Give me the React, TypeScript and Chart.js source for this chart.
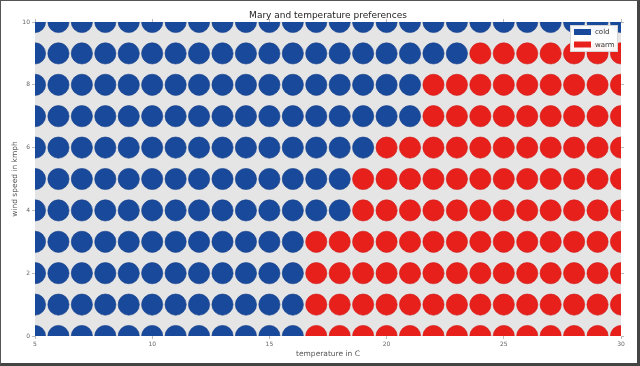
import React, { useEffect, useRef } from "react";
import { Chart, registerables } from "chart.js";

Chart.register(...registerables);

// ---- data ----
const temperatures = [5, 6, 7, 8, 9, 10, 11, 12, 13, 14, 15, 16, 17, 18, 19, 20, 21, 22, 23, 24, 25, 26, 27, 28, 29, 30];
const windSpeeds = [0, 1, 2, 3, 4, 5, 6, 7, 8, 9, 10];
// highest temperature still preferred as "cold" for each wind speed
const coldUpToTemp = [16, 16, 16, 16, 18, 18, 19, 21, 21, 23, 30];
const xTickValues = [5, 10, 15, 20, 25, 30];
const yTickValues = [0, 2, 4, 6, 8, 10];
const seriesLabels = ["cold", "warm"];
const seriesColors = ["#19499b", "#e8201c"];
const seriesEdges = ["#16408a", "#cf1d19"];
const titleText = "Mary and temperature preferences";
const xLabel = "temperature in C";
const yLabel = "wind speed in kmph";

const coldPoints: { x: number; y: number }[] = [];
const warmPoints: { x: number; y: number }[] = [];
windSpeeds.forEach((w, i) => {
  temperatures.forEach((t) => {
    if (t <= coldUpToTemp[i]) coldPoints.push({ x: t, y: w });
    else warmPoints.push({ x: t, y: w });
  });
});

const FONT = "'DejaVu Sans', sans-serif";

const bgPlugin = {
  id: "bgPlugin",
  beforeDraw(chart: any) {
    const { ctx, chartArea } = chart;
    ctx.save();
    ctx.fillStyle = "#ffffff";
    ctx.fillRect(0, 0, chart.width, chart.height);
    ctx.fillStyle = "#e5e5e5";
    ctx.fillRect(chartArea.left, chartArea.top, chartArea.right - chartArea.left, chartArea.bottom - chartArea.top);
    ctx.restore();
  },
};

const legendPlugin = {
  id: "boxLegend",
  afterDraw(chart: any) {
    const { ctx, chartArea } = chart;
    const w = 48;
    const h = 27;
    const left = chartArea.right - 3 - w;
    const top = chartArea.top + 3;
    ctx.save();
    ctx.fillStyle = "rgba(255,255,255,0.95)";
    ctx.strokeStyle = "#cccccc";
    ctx.lineWidth = 0.8;
    ctx.fillRect(left, top, w, h);
    ctx.strokeRect(left + 0.5, top + 0.5, w - 1, h - 1);
    ctx.font = `7px ${FONT}`;
    ctx.textBaseline = "middle";
    ctx.textAlign = "left";
    chart.data.datasets.forEach((ds: any, i: number) => {
      const cy = top + 7 + i * 12.5;
      ctx.fillStyle = ds.backgroundColor;
      ctx.fillRect(left + 4, cy - 3, 17, 6);
      ctx.fillStyle = "#333333";
      ctx.fillText(ds.label, left + 25, cy + 0.5);
    });
    ctx.restore();
  },
};

export default function App() {
  const ref = useRef<HTMLCanvasElement | null>(null);
  useEffect(() => {
    document.body.style.margin = "0";
    if (!ref.current) return;
    const tickFont = { family: FONT, size: 6 };
    const chart = new Chart(ref.current, {
      type: "scatter",
      data: {
        datasets: [
          {
            label: seriesLabels[0],
            data: coldPoints,
            backgroundColor: seriesColors[0],
            borderColor: seriesEdges[0],
            borderWidth: 0.6,
            pointRadius: 10.6,
            pointHoverRadius: 10.6,
            clip: 0,
          },
          {
            label: seriesLabels[1],
            data: warmPoints,
            backgroundColor: seriesColors[1],
            borderColor: seriesEdges[1],
            borderWidth: 0.6,
            pointRadius: 10.6,
            pointHoverRadius: 10.6,
            clip: 0,
          },
        ],
      },
      options: {
        responsive: false,
        animation: false,
        devicePixelRatio: 1,
        layout: { padding: { left: 0, right: 19, top: 0, bottom: 0 } },
        plugins: {
          legend: { display: false },
          tooltip: { enabled: false },
          title: {
            display: true,
            fullSize: false,
            text: titleText,
            color: "#222222",
            font: { family: FONT, size: 9, weight: "normal" },
            padding: { top: 10.6, bottom: 0.6 },
          },
        },
        scales: {
          x: {
            type: "linear",
            position: "bottom",
            min: 5,
            max: 30,
            afterBuildTicks: (s: any) => {
              s.ticks = xTickValues.map((v) => ({ value: v }));
            },
            ticks: { font: tickFont, color: "#666666", padding: 2, maxRotation: 0 },
            grid: { drawOnChartArea: false, tickLength: 3, color: "#bbbbbb" },
            border: { display: false },
            title: {
              display: true,
              text: xLabel,
              color: "#555555",
              font: { family: FONT, size: 7.5 },
              padding: { top: 0, bottom: 7.5 },
            },
            afterFit: (s: any) => {
              s.height = 30;
            },
          },
          x2: {
            type: "linear",
            position: "top",
            min: 5,
            max: 30,
            afterBuildTicks: (s: any) => {
              s.ticks = xTickValues.map((v) => ({ value: v }));
            },
            ticks: { display: false },
            grid: { drawOnChartArea: false, tickLength: 3, color: "#bbbbbb" },
            border: { display: false },
            afterFit: (s: any) => {
              s.height = 0;
            },
          },
          y: {
            type: "linear",
            position: "left",
            min: 0,
            max: 10,
            afterBuildTicks: (s: any) => {
              s.ticks = yTickValues.map((v) => ({ value: v }));
            },
            ticks: { font: tickFont, color: "#666666", padding: 2 },
            grid: { drawOnChartArea: false, tickLength: 3, color: "#bbbbbb" },
            border: { display: false },
            title: {
              display: true,
              text: yLabel,
              color: "#555555",
              font: { family: FONT, size: 7.5 },
              padding: { top: 10.5, bottom: 0 },
            },
            afterFit: (s: any) => {
              s.width = 35;
            },
          },
          y2: {
            type: "linear",
            position: "right",
            min: 0,
            max: 10,
            afterBuildTicks: (s: any) => {
              s.ticks = yTickValues.map((v) => ({ value: v }));
            },
            ticks: { display: false },
            grid: { drawOnChartArea: false, tickLength: 3, color: "#bbbbbb" },
            border: { display: false },
            afterFit: (s: any) => {
              s.width = 0;
            },
          },
        },
      },
      plugins: [bgPlugin, legendPlugin],
    } as any);
    return () => chart.destroy();
  }, []);

  return (
    <div style={{ position: "relative", width: 640, height: 366, overflow: "hidden" }}>
      <canvas ref={ref} width={640} height={366} style={{ display: "block" }} />
      <div
        style={{
          position: "absolute",
          left: 0,
          top: 0,
          width: 640,
          height: 366,
          boxSizing: "border-box",
          borderTop: "1px solid #555",
          borderLeft: "1px solid #555",
          borderRight: "3px solid #444",
          borderBottom: "3px solid #444",
          pointerEvents: "none",
        }}
      />
    </div>
  );
}
